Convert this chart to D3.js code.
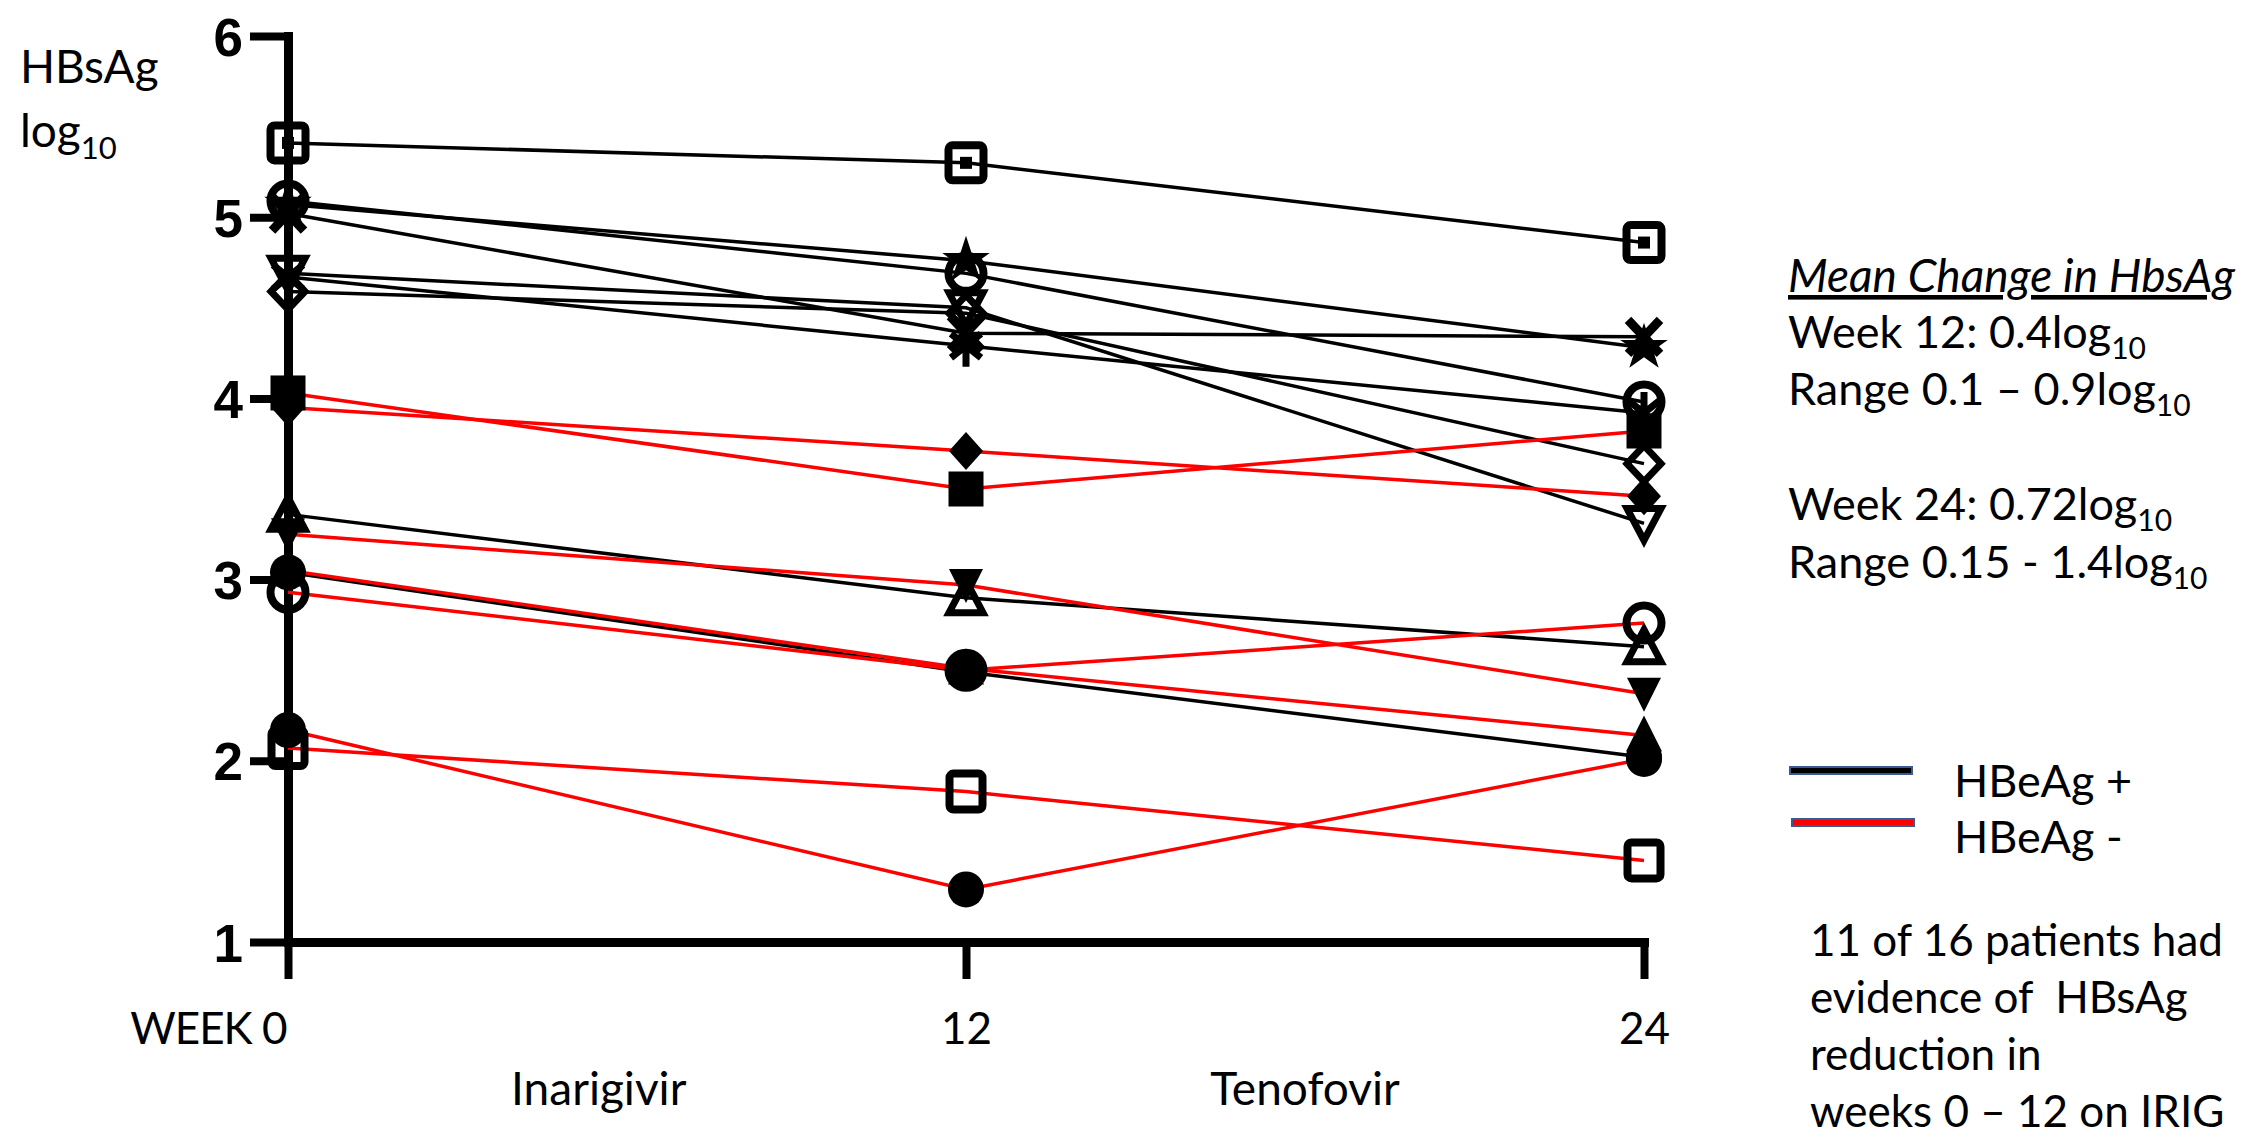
<!DOCTYPE html>
<html>
<head>
<meta charset="utf-8">
<script src="https://cdn.jsdelivr.net/npm/d3@7/dist/d3.min.js"></script>
<style>
  body { margin: 0; background: #fff; }
  text { font-family: Lato, "Open Sans", sans-serif; fill: #000; }
</style>
</head>
<body>
<svg id="chart"></svg>
<script>
// ---- data ----
var weeks = [0, 12, 24];
var weekLabels = ["WEEK 0", "12", "24"];
var yTicks = [1, 2, 3, 4, 5, 6];
var phaseLabels = ["Inarigivir", "Tenofovir"];
var phaseWeeks = [5.5, 18];

// HBsAg log10 per patient at week 0 / 12 / 24
var hbeagPos = [
  [5.41, 5.30, 4.86],
  [5.09, 4.69, 3.98],
  [5.07, 4.76, 4.28],
  [5.02, 4.36, 4.34],
  [4.69, 4.50, 3.31],
  [4.59, 4.47, 3.64],
  [4.67, 4.29, 3.92],
  [3.36, 2.90, 2.63],
  [3.04, 2.49, 2.02]
];
var hbeagNeg = [
  [4.03, 3.50, 3.82],
  [3.95, 3.71, 3.46],
  [3.25, 2.97, 2.37],
  [3.05, 2.51, 2.14],
  [2.93, 2.50, 2.76],
  [2.17, 1.29, 2.01],
  [2.07, 1.83, 1.45]
];
var legendLabels = ["HBeAg +", "HBeAg -"];

// symbols (prism style)
var posSymbols = ["squareDot", "circleOpen", "star", "cross", "triDownOpen", "diamondOpen", "asterisk", "triOpen", "circleFilled"];
var negSymbols = ["squareFilled", "diamondFilled", "triDownFilled", "triFilled", "circleOpen", "circleFilled", "squareOpen"];

var W = 2247, H = 1137;

var svg = d3.select("#chart")
  .attr("width", W)
  .attr("height", H);

var x = d3.scaleLinear()
  .domain([0, 24])
  .range([288, 1644]);

var y = d3.scaleLinear()
  .domain([1, 6])
  .range([942, 36]);

// ---- axes ----
var yAxis = d3.axisLeft(y)
  .tickValues(yTicks)
  .tickSize(38)
  .tickSizeOuter(0)
  .tickPadding(7)
  .tickFormat(d3.format("d"));

var gy = svg.append("g")
  .attr("transform", "translate(" + x(0) + ",0)")
  .call(yAxis);
gy.select(".domain").attr("stroke", "#000").attr("stroke-width", 9).attr("stroke-linecap", "square");
gy.selectAll(".tick line").attr("stroke", "#000").attr("stroke-width", 8);
gy.selectAll(".tick text")
  .style("font-family", "'Liberation Sans Narrow', 'Liberation Sans', Arial, sans-serif")
  .style("font-weight", "bold")
  .style("font-size", "53px")
  .attr("dy", "0.36em");

var xAxis = d3.axisBottom(x)
  .tickValues(weeks)
  .tickSize(37)
  .tickSizeOuter(0)
  .tickFormat(function(d, i){ return weekLabels[i]; });

var gx = svg.append("g")
  .attr("transform", "translate(0," + y(1) + ")")
  .call(xAxis);
gx.select(".domain").attr("stroke", "#000").attr("stroke-width", 9).attr("stroke-linecap", "square");
gx.selectAll(".tick line").attr("stroke", "#000").attr("stroke-width", 8);
gx.selectAll(".tick text")
  .style("font-size", "44px")
  .style("letter-spacing", function(d, i){ return i === 0 ? "-1px" : "0px"; })
  .attr("y", 102)
  .attr("dy", 0)
  .attr("text-anchor", function(d, i){ return i === 0 ? "end" : "middle"; })
  .attr("x", function(d, i){ return i === 0 ? -2 : 0; });

// phase labels under the axis
svg.selectAll(".phase")
  .data(phaseLabels)
  .enter().append("text")
  .attr("class", "phase")
  .attr("x", function(d, i){ return x(phaseWeeks[i]); })
  .attr("y", 1105)
  .attr("text-anchor", "middle")
  .style("font-size", "46px")
  .text(function(d){ return d; });

// y label
var ylab = svg.append("g");
ylab.append("text").attr("x", 20).attr("y", 83).style("font-size", "46px").text("HBsAg");
var logT = ylab.append("text").attr("x", 20).attr("y", 147).style("font-size", "46px");
logT.append("tspan").text("log");
logT.append("tspan").attr("dy", 12).style("font-size", "31px").text("10");

// ---- lines ----
var line = d3.line()
  .x(function(d, i){ return x(weeks[i]); })
  .y(function(d){ return y(d); });

var series = hbeagPos.map(function(v, i){ return { vals: v, color: "#000", sym: posSymbols[i] }; })
  .concat(hbeagNeg.map(function(v, i){ return { vals: v, color: "#ff0000", sym: negSymbols[i] }; }));

svg.append("g").selectAll("path")
  .data(series)
  .enter().append("path")
  .attr("d", function(d){ return line(d.vals); })
  .attr("fill", "none")
  .attr("stroke", function(d){ return d.color; })
  .attr("stroke-width", 3.5);

// ---- markers ----
function drawSymbol(g, type){
  switch(type){
    case "squareDot":
      g.append("rect").attr("x", -17.5).attr("y", -17.5).attr("width", 35).attr("height", 35).attr("rx", 4)
        .attr("fill", "none").attr("stroke", "#000").attr("stroke-width", 8);
      g.append("rect").attr("x", -6).attr("y", -6).attr("width", 12).attr("height", 12).attr("fill", "#000");
      break;
    case "squareOpen":
      g.append("rect").attr("x", -16.5).attr("y", -18).attr("width", 33).attr("height", 36).attr("rx", 4)
        .attr("fill", "none").attr("stroke", "#000").attr("stroke-width", 8);
      break;
    case "squareFilled":
      g.append("rect").attr("x", -17.5).attr("y", -17.5).attr("width", 35).attr("height", 35).attr("fill", "#000");
      break;
    case "circleOpen":
      g.append("circle").attr("r", 17.5).attr("fill", "none").attr("stroke", "#000").attr("stroke-width", 8);
      break;
    case "circleFilled":
      g.append("circle").attr("r", 18).attr("fill", "#000");
      break;
    case "diamondOpen":
      g.append("path").attr("d", "M0,-18L17,0L0,18L-17,0Z")
        .attr("fill", "none").attr("stroke", "#000").attr("stroke-width", 7);
      break;
    case "diamondFilled":
      g.append("path").attr("d", "M0,-19L17,0L0,19L-17,0Z").attr("fill", "#000");
      break;
    case "triOpen":
      g.append("path").attr("d", "M0,-17L17,15L-17,15Z")
        .attr("fill", "none").attr("stroke", "#000").attr("stroke-width", 7);
      break;
    case "triDownOpen":
      g.append("path").attr("d", "M0,17L17,-15L-17,-15Z")
        .attr("fill", "none").attr("stroke", "#000").attr("stroke-width", 7);
      break;
    case "triFilled":
      g.append("path").attr("d", "M0,-20L18,16L-18,16Z").attr("fill", "#000");
      break;
    case "triDownFilled":
      g.append("path").attr("d", "M0,18L17,-16L-17,-16Z").attr("fill", "#000");
      break;
    case "cross":
      g.append("path").attr("d", "M-16,-17L16,17M16,-17L-16,17")
        .attr("stroke", "#000").attr("stroke-width", 9);
      break;
    case "asterisk":
      g.append("path").attr("d", "M-15,-12L15,12M15,-12L-15,12M0,-21L0,21")
        .attr("stroke", "#000").attr("stroke-width", 7);
      break;
    case "star":
      g.append("path").attr("d", d3.symbol(d3.symbolStar, 700)()).attr("fill", "#000");
      break;
  }
}

var mg = svg.append("g");
series.forEach(function(s){
  s.vals.forEach(function(v, i){
    var g = mg.append("g").attr("transform", "translate(" + x(weeks[i]) + "," + y(v) + ")");
    drawSymbol(g, s.sym);
  });
});

// ---- right-hand notes ----
var notes = svg.append("g");
notes.append("text").attr("x", 1788).attr("y", 292)
  .style("font-size", "46px").style("font-style", "italic").style("text-decoration", "underline")
  .text("Mean Change in HbsAg");

var noteRows = [
  { y: 348, main: "Week 12: 0.4log" },
  { y: 405, main: "Range 0.1 \u2013 0.9log" },
  { y: 520, main: "Week 24: 0.72log" },
  { y: 578, main: "Range 0.15 - 1.4log" }
];
noteRows.forEach(function(r){
  var t = notes.append("text").attr("x", 1788).attr("y", r.y).style("font-size", "45px");
  t.append("tspan").text(r.main);
  t.append("tspan").attr("dy", 11).style("font-size", "30px").text("10");
});

// legend
var legend = svg.append("g");
legendLabels.forEach(function(lbl, i){
  legend.append("rect")
    .attr("x", 1790 + i * 2).attr("y", 767 + i * 52)
    .attr("width", 122).attr("height", 7)
    .attr("fill", i === 0 ? "#000" : "#ff0000")
    .attr("stroke", "#3b5a94").attr("stroke-width", 2);
  legend.append("text")
    .attr("x", 1954).attr("y", 797 + i * 56)
    .style("font-size", "45px")
    .text(lbl);
});

var foot = ["11 of 16 patients had", "evidence of  HBsAg", "reduction in", "weeks 0 \u2013 12 on IRIG"];
svg.append("g").selectAll("text")
  .data(foot)
  .enter().append("text")
  .attr("x", 1810)
  .attr("y", function(d, i){ return 956 + i * 57; })
  .style("font-size", "44px")
  .style("white-space", "pre")
  .text(function(d){ return d; });
</script>
</body>
</html>
